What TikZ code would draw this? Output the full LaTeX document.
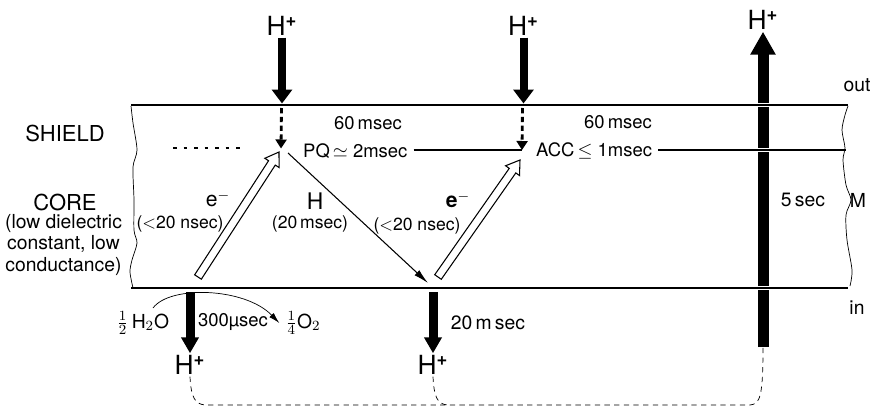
\documentclass[tikz,border=0pt]{standalone}
\usepackage{amsmath}
\usepackage{amssymb}
\usepackage{fontspec}
\setmainfont{TeX Gyre Heros}
\usepackage{tikz}
\usetikzlibrary{arrows.meta, positioning, calc}

% open (hollow) arrow from #1 to #2
\newcommand{\hollowarrow}[2]{%
    \coordinate (hb) at ($(#2)!0.26cm!(#1)$);
    \draw[semithick, fill=white] ($(#1)!0.08cm!90:(#2)$) -- ($(hb)!0.08cm!90:(#2)$)
        -- ($(hb)!0.17cm!90:(#2)$) -- (#2) -- ($(hb)!0.17cm!-90:(#2)$)
        -- ($(hb)!0.08cm!-90:(#2)$) -- ($(#1)!0.08cm!-90:(#2)$) -- cycle;
}

\begin{document}
\begin{tikzpicture}[
    bigarr/.style={line width=0.16cm, -{Triangle[length=0.28cm, width=0.40cm]}},
    lowarr/.style={line width=0.18cm, -{Triangle[length=0.32cm, width=0.34cm]}},
    dasharr/.style={line width=1.6pt, dash pattern=on 3pt off 2pt, -{Triangle[length=0.18cm, width=0.22cm]}},
    thinarr/.style={semithick, -{Latex[length=0.30cm, width=0.14cm]}},
    curvarr/.style={thin, -{Latex[length=0.22cm, width=0.12cm]}},
    membrane/.style={line width=1.1pt},
    layer/.style={line width=0.6pt},
    gap/.style={white, line width=2.6pt},
    loop/.style={thin, dash pattern=on 3pt off 2.5pt},
    hion/.style={font=\fontsize{15}{18}\selectfont, inner sep=1pt},
    big/.style={font=\fontsize{12.5}{14}\selectfont},
    every node/.style={font=\fontsize{10.5}{12}\selectfont}
]
\useasboundingbox (0,0) rectangle (17.52,-8.14);

% named points
\coordinate (pq) at (5.62,-2.97);
\coordinate (acc) at (10.44,-3.00);
\coordinate (hit) at (8.56,-5.66);
\coordinate (tail) at (15.26,-6.94);

% protons
\node[hion] (hinA) at (5.64,-0.52) {H\textsuperscript{\textbf{+}}};
\node[hion] (hinB) at (10.47,-0.52) {H\textsuperscript{\textbf{+}}};
\node[hion] (hout) at (15.26,-0.40) {H\textsuperscript{\textbf{+}}};
\node[hion] (hbotA) at (3.80,-7.30) {H\textsuperscript{\textbf{+}}};
\node[hion] (hbotB) at (8.66,-7.30) {H\textsuperscript{\textbf{+}}};

% 5 sec pump
\draw[line width=0.22cm, -{Triangle[length=0.46cm, width=0.48cm]}] (tail) -- (hout.south);
\foreach \y in {-2.10, -3.00, -5.76} {
    \draw[gap] (15.08,\y) -- (15.44,\y);
}

% membrane
\draw[membrane] (2.62,-2.10) -- (16.96,-2.10);
\draw[membrane] (2.62,-5.76) -- (16.96,-5.76);
\draw[layer, dash pattern=on 2pt off 4pt] (3.46,-2.96) -- (4.80,-2.96);
\draw[thin] plot[smooth] coordinates {(2.62,-2.12) (2.66,-2.46) (2.74,-3.00) (2.66,-3.34) (2.68,-4.00)
    (2.68,-4.60) (2.74,-4.86) (2.64,-5.20) (2.60,-5.44) (2.66,-5.76)};
\draw[thin] plot[smooth] coordinates {(16.96,-2.12) (16.90,-2.30) (16.84,-2.60) (16.90,-2.96) (16.86,-3.20)
    (16.92,-3.70) (17.02,-4.00) (16.92,-4.30) (16.94,-4.80) (17.04,-5.40) (17.00,-5.72)};

% layer labels
\node[big] (shield) at (1.30,-2.66) {SHIELD};
\node[big] (core) at (1.30,-4.04) {CORE};
\node[align=center, font=\fontsize{11}{12}\selectfont] (coretxt) at (1.27,-4.90) {(low dielectric\\constant, low\\conductance)};
\node[font=\fontsize{11}{13}\selectfont] (out) at (17.14,-1.70) {out};
\node[font=\fontsize{11}{13}\selectfont] (mid) at (17.16,-4.00) {M};
\node[font=\fontsize{11}{13}\selectfont] (in) at (17.14,-6.16) {in};

% shield reactions
\draw[bigarr] (hinA.south) -- (hinA.south |- 0,-2.07);
\draw[bigarr] (hinB.south) -- (hinB.south |- 0,-2.07);
\draw[dasharr] (5.63,-2.16) -- (pq);
\draw[dasharr] (10.45,-2.16) -- (acc);
\node (t60a) at (7.36,-2.46) {60\,msec};
\node (t60b) at (12.36,-2.44) {60\,msec};
\node[anchor=west] (pqtxt) at (5.94,-3.02) {PQ\,$\simeq$ 2msec};
\node[anchor=west] (acctxt) at (10.60,-3.02) {ACC\,$\leq$ 1msec};
\draw[layer] (pqtxt.east |- acc) -- (acc);
\draw[layer] (acctxt.east |- acc) -- (16.92,-3.00);

% core transfer
\coordinate (eA) at (3.96,-5.54);
\coordinate (eB) at (8.76,-5.54);
\hollowarrow{eA}{5.58,-3.04}
\hollowarrow{eB}{10.40,-3.20}
\draw[thinarr] (5.76,-3.06) -- (hit);
\node[font=\fontsize{12}{14}\selectfont] (elA) at (4.36,-3.98) {e$^-$};
\node[font=\fontsize{10}{12}\selectfont] (tA) at (3.60,-4.48) {($<$20 nsec)};
\node[font=\fontsize{13}{15}\selectfont] (hatom) at (6.30,-4.02) {H};
\node[font=\fontsize{10}{12}\selectfont] (tH) at (6.20,-4.48) {(20\,msec)};
\node[font=\bfseries\fontsize{12}{14}\selectfont] (elB) at (9.16,-4.00) {e$^-$};
\node[font=\fontsize{10}{12}\selectfont] (tB) at (8.34,-4.52) {($<$20 nsec)};
\node[font=\fontsize{11}{13}\selectfont] (t5) at (16.06,-4.00) {5\,sec};

% inner side
\node[font=\fontsize{11}{13}\selectfont] (water) at (2.86,-6.46) {$\frac{1}{2}$\,H$_2$O};
\node[font=\fontsize{11}{13}\selectfont] (oxygen) at (6.06,-6.46) {$\frac{1}{4}$O$_2$};
\draw[curvarr] (3.06,-6.16) .. controls (3.40,-5.70) and (4.90,-5.75) .. (oxygen.west);
\draw[lowarr] (hbotA.north |- 0,-5.84) -- (hbotA.north);
\draw[lowarr] (hbotB.north |- 0,-5.84) -- (hbotB.north);
\node (t300) at (4.66,-6.44) {300µsec};
\node[font=\fontsize{11}{13}\selectfont] (t20) at (9.76,-6.46) {20\,m\,sec};

% return path
\draw[loop] (hbotA.south) .. controls (3.82,-7.95) and (3.90,-8.08) .. (4.10,-8.10) -- (15.00,-8.10)
    .. controls (15.20,-8.08) and (15.26,-7.95) .. (tail);
\draw[loop] (hbotB.south) .. controls (8.68,-7.95) and (8.75,-8.08) .. (8.95,-8.10);

\end{tikzpicture}
\end{document}
